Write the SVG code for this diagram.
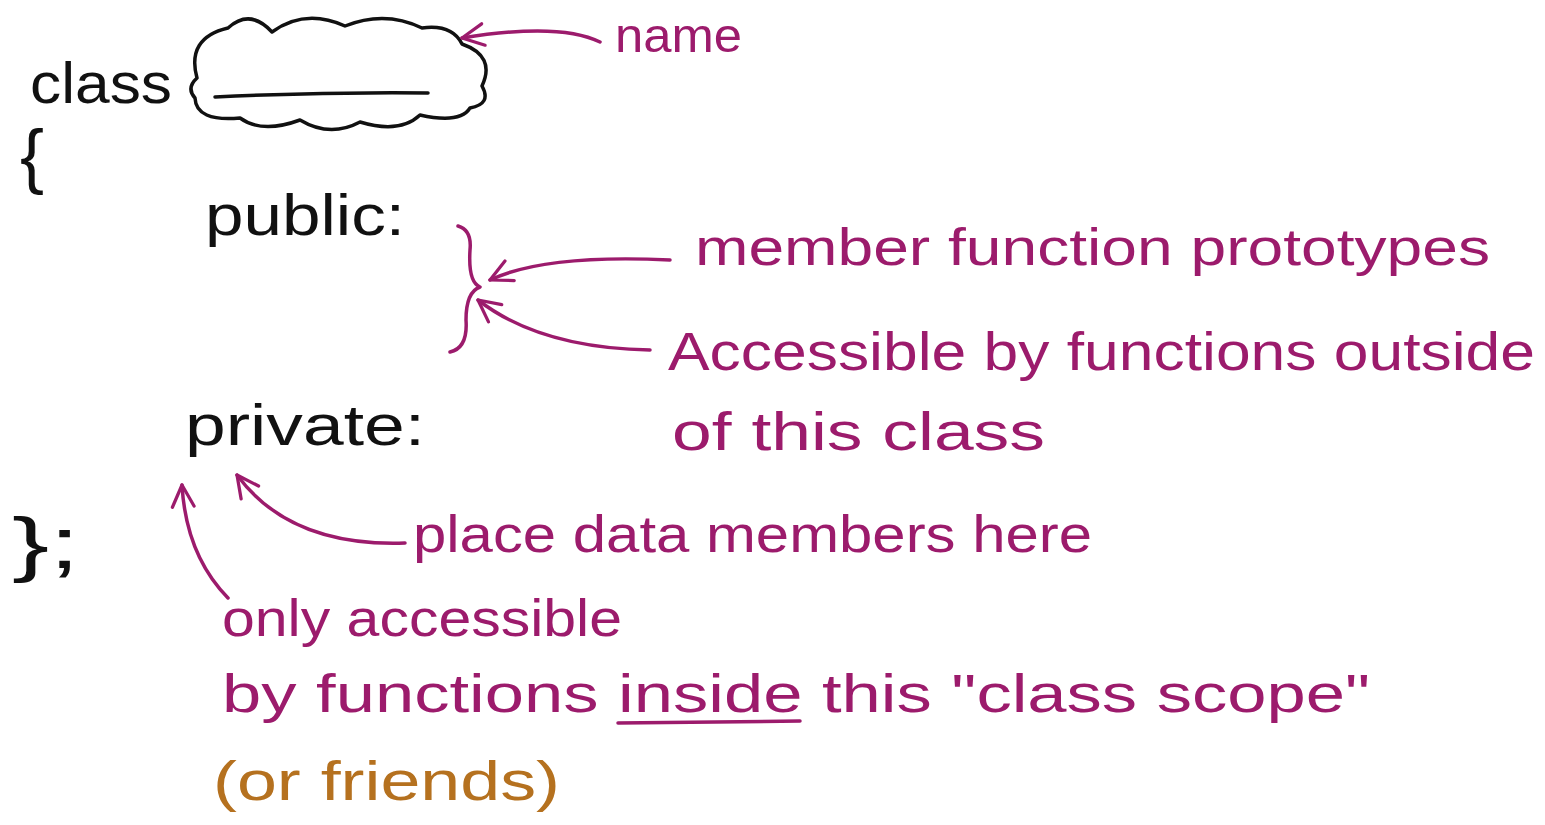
<svg xmlns="http://www.w3.org/2000/svg" width="1545" height="825" viewBox="0 0 1545 825">
<style>
.k{font-family:"Liberation Sans",Arial,sans-serif;fill:#111}
.m{font-family:"Liberation Sans",Arial,sans-serif;fill:#9c1b6c}
.o{font-family:"Liberation Sans",Arial,sans-serif;fill:#b5711f}
.sk{fill:none;stroke:#111;stroke-width:3.5;stroke-linecap:round;stroke-linejoin:round}
.sm{fill:none;stroke:#9c1b6c;stroke-width:3.5;stroke-linecap:round;stroke-linejoin:round}
</style>
<defs>
<marker id="ah" viewBox="0 0 12 12" refX="11" refY="6" markerWidth="26" markerHeight="26" markerUnits="userSpaceOnUse" orient="auto">
<path d="M1,1 L11,6 L1,11" fill="none" stroke="#9c1b6c" stroke-width="1.5" stroke-linecap="round" stroke-linejoin="round"/>
</marker>
</defs>
<rect width="1545" height="825" fill="#fff"/>
<g id="class-decl">
<text class="k" x="30" y="103" font-size="58" textLength="142" lengthAdjust="spacingAndGlyphs">class</text>
<path class="sk" d="M197 78 Q186 38 228 28 Q250 8 272 32 Q305 8 345 26 Q385 10 422 28 Q452 24 462 44 Q496 56 482 86 Q492 104 470 108 Q460 124 420 115 Q400 134 360 122 Q330 138 300 120 Q262 134 240 118 Q196 122 195 98 Q186 88 197 78 Z"/>
<path class="sk" d="M215 97 Q320 92 428 93"/>
<text class="k" x="20" y="180" font-size="72">{</text>
</g>
<g id="public">
<text class="k" x="205" y="235" font-size="58" textLength="200" lengthAdjust="spacingAndGlyphs">public:</text>
<path class="sm" d="M458 226 Q472 230 470 250 Q468 282 480 287 Q466 292 466 320 Q468 348 450 352"/>
</g>
<g id="private">
<text class="k" x="185" y="445" font-size="58" textLength="240" lengthAdjust="spacingAndGlyphs">private:</text>
</g>
<g id="close">
<text class="k" x="12" y="568" font-size="72" textLength="68" lengthAdjust="spacingAndGlyphs">};</text>
</g>
<g id="label-name">
<text class="m" x="615" y="52" font-size="48" textLength="127" lengthAdjust="spacingAndGlyphs">name</text>
</g>
<g id="label-member">
<text class="m" x="695" y="265" font-size="52" textLength="795" lengthAdjust="spacingAndGlyphs">member function prototypes</text>
</g>
<g id="label-accessible">
<text class="m" x="668" y="370" font-size="54" textLength="867" lengthAdjust="spacingAndGlyphs">Accessible by functions outside</text>
<text class="m" x="672" y="450" font-size="54" textLength="373" lengthAdjust="spacingAndGlyphs">of this class</text>
</g>
<g id="label-data">
<text class="m" x="413" y="552" font-size="52" textLength="679" lengthAdjust="spacingAndGlyphs">place data members here</text>
</g>
<g id="label-only">
<text class="m" x="222" y="636" font-size="52" textLength="400" lengthAdjust="spacingAndGlyphs">only accessible</text>
<text class="m" x="222" y="712" font-size="54" textLength="1148" lengthAdjust="spacingAndGlyphs">by functions inside this "class scope"</text>
<path class="sm" d="M618 723 L800 721"/>
</g>
<g id="label-friends">
<text class="o" x="213" y="800" font-size="56" textLength="347" lengthAdjust="spacingAndGlyphs">(or friends)</text>
</g>
<g id="connectors">
<path class="sm" marker-end="url(#ah)" d="M600 42 Q560 22 462 38"/>
<path class="sm" marker-end="url(#ah)" d="M670 260 Q545 254 490 280"/>
<path class="sm" marker-end="url(#ah)" d="M650 350 Q540 348 478 300"/>
<path class="sm" marker-end="url(#ah)" d="M228 598 Q186 555 182 485"/>
<path class="sm" marker-end="url(#ah)" d="M405 543 Q290 547 237 475"/>
</g>
</svg>
